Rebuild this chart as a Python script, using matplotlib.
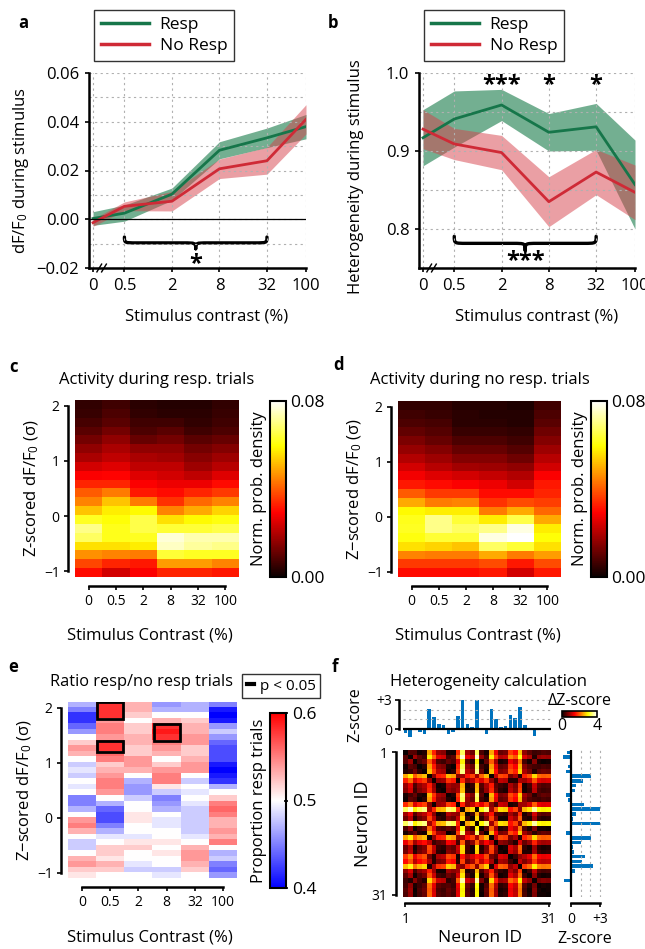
import numpy as np
import matplotlib.pyplot as plt
from matplotlib.path import Path
from matplotlib.patches import PathPatch, Rectangle
from matplotlib.lines import Line2D

plt.rcParams['font.family'] = ['Open Sans', 'DejaVu Sans']
plt.rcParams['mathtext.fontset'] = 'custom'
plt.rcParams['mathtext.rm'] = 'Open Sans'
plt.rcParams['mathtext.it'] = 'Open Sans:italic'

W, H = 645, 949

# --- data -------------------------------------------------------------
contrast_labels = ['0', '0.5', '2', '8', '32', '100']
contrast_vals = [0.2, 0.5, 2, 8, 32, 100]   # 0 % drawn left of 0.5 (axis break)

# a: dF/F0 during stimulus
resp_dff = np.array([0.0003, 0.0025, 0.0103, 0.0283, 0.0334, 0.0380])
resp_dff_err = np.array([0.0028, 0.0033, 0.0025, 0.0035, 0.0040, 0.0050])
noresp_dff = np.array([-0.0014, 0.0053, 0.0074, 0.0207, 0.0240, 0.0410])
noresp_dff_err = np.array([0.0015, 0.0018, 0.0040, 0.0040, 0.0055, 0.0060])

# b: heterogeneity during stimulus
resp_het = np.array([0.917, 0.941, 0.959, 0.924, 0.931, 0.857])
resp_het_err = np.array([0.036, 0.036, 0.020, 0.024, 0.030, 0.057])
noresp_het = np.array([0.928, 0.909, 0.898, 0.835, 0.873, 0.847])
noresp_het_err = np.array([0.025, 0.020, 0.022, 0.032, 0.029, 0.035])

# c, d: density per contrast column, rows from z = 2 (top) to z = -1 (bottom),
# given as a fraction of the 0.08 colour-scale maximum
dens_max = 0.08
resp_density_rel = [
    [0.06, 0.07, 0.09, 0.12, 0.16, 0.20, 0.24, 0.30, 0.36, 0.42, 0.50, 0.56, 0.66, 0.78, 0.88, 0.84, 0.70, 0.58, 0.47, 0.38],
    [0.08, 0.10, 0.12, 0.16, 0.20, 0.24, 0.27, 0.32, 0.37, 0.42, 0.55, 0.66, 0.72, 0.75, 0.77, 0.77, 0.70, 0.56, 0.42, 0.30],
    [0.05, 0.06, 0.08, 0.10, 0.14, 0.20, 0.24, 0.27, 0.32, 0.36, 0.40, 0.55, 0.74, 0.82, 0.82, 0.78, 0.72, 0.55, 0.40, 0.36],
    [0.04, 0.05, 0.08, 0.12, 0.16, 0.20, 0.23, 0.27, 0.30, 0.34, 0.38, 0.44, 0.56, 0.70, 0.80, 0.96, 0.94, 0.80, 0.60, 0.42],
    [0.04, 0.05, 0.06, 0.08, 0.12, 0.16, 0.19, 0.22, 0.27, 0.34, 0.42, 0.52, 0.62, 0.74, 0.80, 0.92, 0.90, 0.78, 0.60, 0.42],
    [0.06, 0.07, 0.08, 0.10, 0.14, 0.18, 0.22, 0.26, 0.32, 0.38, 0.45, 0.56, 0.68, 0.76, 0.82, 0.92, 0.88, 0.78, 0.56, 0.40],
]
noresp_density_rel = [
    [0.06, 0.08, 0.10, 0.13, 0.17, 0.21, 0.25, 0.30, 0.35, 0.40, 0.50, 0.62, 0.74, 0.77, 0.78, 0.76, 0.70, 0.56, 0.45, 0.38],
    [0.06, 0.07, 0.09, 0.11, 0.14, 0.18, 0.22, 0.26, 0.32, 0.38, 0.45, 0.55, 0.72, 0.88, 0.88, 0.80, 0.68, 0.55, 0.45, 0.38],
    [0.04, 0.05, 0.05, 0.07, 0.10, 0.14, 0.18, 0.23, 0.30, 0.36, 0.45, 0.56, 0.72, 0.80, 0.84, 0.80, 0.66, 0.55, 0.45, 0.38],
    [0.04, 0.04, 0.05, 0.07, 0.10, 0.14, 0.18, 0.22, 0.28, 0.34, 0.38, 0.44, 0.55, 0.72, 0.88, 0.97, 0.84, 0.62, 0.48, 0.40],
    [0.03, 0.04, 0.04, 0.06, 0.08, 0.11, 0.15, 0.20, 0.25, 0.30, 0.38, 0.48, 0.62, 0.82, 0.97, 1.00, 0.80, 0.55, 0.40, 0.30],
    [0.08, 0.10, 0.12, 0.15, 0.18, 0.22, 0.26, 0.30, 0.36, 0.40, 0.42, 0.46, 0.52, 0.62, 0.72, 0.75, 0.70, 0.60, 0.48, 0.40],
]

# e: proportion of resp trials, rows from z = 2 (top) to z = -1 (bottom)
ratio_resp = [
    [0.47, 0.45, 0.42, 0.42, 0.44, 0.46, 0.50, 0.52, 0.54, 0.53, 0.50, 0.48, 0.49, 0.48, 0.50, 0.49,
     0.50, 0.45, 0.45, 0.47, 0.50, 0.54, 0.55, 0.53, 0.50, 0.48, 0.48, 0.50, 0.53, 0.54, 0.52, 0.51],
    [0.58, 0.58, 0.58, 0.54, 0.55, 0.55, 0.54, 0.58, 0.58, 0.56, 0.55, 0.52, 0.53, 0.54, 0.55, 0.55,
     0.54, 0.50, 0.47, 0.44, 0.43, 0.43, 0.45, 0.47, 0.49, 0.50, 0.52, 0.52, 0.51, 0.53, 0.52, 0.50],
    [0.53, 0.53, 0.52, 0.50, 0.52, 0.52, 0.53, 0.53, 0.52, 0.52, 0.54, 0.54, 0.53, 0.50, 0.47, 0.46,
     0.46, 0.48, 0.50, 0.50, 0.51, 0.51, 0.50, 0.50, 0.49, 0.51, 0.52, 0.50, 0.50, 0.49, 0.48, 0.50],
    [0.46, 0.47, 0.50, 0.53, 0.58, 0.59, 0.58, 0.55, 0.54, 0.53, 0.50, 0.52, 0.54, 0.55, 0.55, 0.51,
     0.48, 0.45, 0.46, 0.47, 0.50, 0.49, 0.49, 0.50, 0.50, 0.51, 0.50, 0.51, 0.50, 0.50, 0.48, 0.49],
    [0.47, 0.47, 0.50, 0.52, 0.53, 0.53, 0.54, 0.54, 0.52, 0.52, 0.53, 0.54, 0.54, 0.50, 0.48, 0.50,
     0.49, 0.50, 0.49, 0.48, 0.48, 0.48, 0.48, 0.48, 0.49, 0.50, 0.53, 0.54, 0.54, 0.53, 0.52, 0.50],
    [0.45, 0.41, 0.40, 0.41, 0.46, 0.48, 0.46, 0.44, 0.43, 0.43, 0.43, 0.41, 0.40, 0.41, 0.42, 0.47,
     0.50, 0.52, 0.55, 0.56, 0.55, 0.53, 0.53, 0.54, 0.53, 0.55, 0.50, 0.47, 0.48, 0.45, 0.44, 0.46],
]
# significant cells (p < 0.05): (contrast column, first row, last row)
sig_cells = [(1, 0, 2), (1, 7, 8), (3, 4, 6)]

# f: z-scores of the 31 neurons
neuron_z = np.array([-0.35, -0.8, 0.1, -0.3, -0.5, 2.1, 1.3, 0.5, 0.4, -0.45, -0.3, 1.35, 3.0, 0.55, 0.25, 3.0,
                     0.05, -0.45, 2.1, 1.0, 0.2, 0.3, 1.45, 1.15, 2.25, 0.45, 0.15, -0.65, 0.0, 0.1, 0.05])

GREEN = '#16764a'
RED = '#cf2a36'

# --- helpers ------------------------------------------------------------
fig = plt.figure(figsize=(6.45, 9.49), dpi=100)


def px_axes(x, y, w, h):
    return fig.add_axes([x / W, 1 - (y + h) / H, w / W, h / H])


def ftext(x, y, s, **kw):
    kw.setdefault('ha', 'center')
    kw.setdefault('va', 'center')
    fig.text(x / W, 1 - y / H, s, **kw)


def brace(ax, x0, x1, y, h, r):
    xm = (x0 + x1) / 2
    yb = y - h / 2
    verts = [(x0, y), (x0, yb), (x0, yb), (x0 + r, yb),
             (xm - r, yb),
             (xm, yb), (xm, yb), (xm, y - h),
             (xm, yb), (xm, yb), (xm + r, yb),
             (x1 - r, yb),
             (x1, yb), (x1, yb), (x1, y)]
    codes = [Path.MOVETO, Path.CURVE4, Path.CURVE4, Path.CURVE4,
             Path.LINETO,
             Path.CURVE4, Path.CURVE4, Path.CURVE4,
             Path.CURVE4, Path.CURVE4, Path.CURVE4,
             Path.LINETO,
             Path.CURVE4, Path.CURVE4, Path.CURVE4]
    ax.add_patch(PathPatch(Path(verts, codes), fc='none', ec='k', lw=2.4, clip_on=False,
                           capstyle='round', joinstyle='round'))


xpos = np.log10(contrast_vals)


def line_panel(ax, r, r_err, n, n_err, ylim, yticks, yticklabels, minor):
    ax.fill_between(xpos, r - r_err, r + r_err, color='#1e7f4e', alpha=0.62, lw=0)
    ax.fill_between(xpos, n - n_err, n + n_err, color='#d6404a', alpha=0.5, lw=0)
    ax.plot(xpos, r, color=GREEN, lw=2)
    ax.plot(xpos, n, color=RED, lw=2)
    ax.set_xlim(-0.75, 2.0)
    ax.set_ylim(*ylim)
    ax.set_xticks(xpos)
    ax.set_xticklabels(contrast_labels)
    ax.set_yticks(yticks)
    ax.set_yticklabels(yticklabels)
    ax.set_yticks(minor, minor=True)
    ax.grid(True, which='both', ls=(0, (2, 3)), color='#b0b0b0', lw=0.8)
    ax.tick_params(which='minor', length=0)
    ax.tick_params(which='major', labelsize=12, length=3, width=1.2, pad=4)
    for s in ['top', 'right']:
        ax.spines[s].set_visible(False)
    for s in ['left', 'bottom']:
        ax.spines[s].set_linewidth(1.8)
    # axis break between 0 and 0.5
    for dx in (-0.62, -0.56):
        ax.plot([dx - 0.03, dx + 0.03], [-0.02, 0.02], transform=ax.get_xaxis_transform(),
                color='k', lw=1, clip_on=False)
    leg = ax.legend(handles=[Line2D([], [], color=GREEN, lw=2.5), Line2D([], [], color=RED, lw=2.5)],
                    labels=['Resp', 'No Resp'], loc='center',
                    bbox_to_anchor=((ax.get_position().x0 + 75 / W), 1 - 35.5 / H),
                    bbox_transform=fig.transFigure, fancybox=False, edgecolor='k',
                    fontsize=12.5, handlelength=2.8, borderpad=0.4, labelspacing=0.3,
                    handletextpad=0.6, borderaxespad=0)
    leg.get_frame().set_linewidth(1.0)


# --- a ------------------------------------------------------------------
ax_a = px_axes(89, 73, 217, 195)
line_panel(ax_a, resp_dff, resp_dff_err, noresp_dff, noresp_dff_err, (-0.02, 0.06),
           [-0.02, 0, 0.02, 0.04, 0.06], ['\u22120.02', '0.00', '0.02', '0.04', '0.06'],
           [-0.01, 0.01, 0.03, 0.05])
ax_a.axhline(0, color='k', lw=0.9)
brace(ax_a, xpos[1], xpos[4], -0.0073, 0.0048, 0.16)
ax_a.text((xpos[1] + xpos[4]) / 2, -0.0185, '*', ha='center', va='center', fontsize=17, fontweight='bold')
ax_a.set_ylabel('dF/F$_\\mathregular{0}$ during stimulus', fontsize=12)
ax_a.yaxis.set_label_coords(-0.267, 0.5)
ftext(207, 317, 'Stimulus contrast (%)', fontsize=12)
ftext(23, 23, 'a', fontsize=12, fontweight='bold')

# --- b ------------------------------------------------------------------
ax_b = px_axes(419, 73, 216, 195)
line_panel(ax_b, resp_het, resp_het_err, noresp_het, noresp_het_err, (0.75, 1.0),
           [0.8, 0.9, 1.0], ['0.8', '0.9', '1.0'], [0.75, 0.85, 0.95])
brace(ax_b, xpos[1], xpos[4], 0.7906, 0.018, 0.16)
ax_b.text((xpos[1] + xpos[4]) / 2, 0.759, '***', ha='center', va='center', fontsize=17, fontweight='bold')
for i, s in [(2, '***'), (3, '*'), (4, '*')]:
    ax_b.text(xpos[i], 0.985, s, ha='center', va='center', fontsize=17, fontweight='bold')
ax_b.set_ylabel('Heterogeneity during stimulus', fontsize=12)
ax_b.yaxis.set_label_coords(-0.255, 0.47)
ftext(537, 317, 'Stimulus contrast (%)', fontsize=12)
ftext(333, 23, 'b', fontsize=12, fontweight='bold')


# --- heatmap helpers ------------------------------------------------------
def heat_axes(ax, im_data, cmap, vmin, vmax, ylabel):
    im = ax.imshow(im_data, cmap=cmap, vmin=vmin, vmax=vmax, aspect='auto',
                   extent=[-0.5, 5.5, -1.1, 2.1], interpolation='nearest')
    ax.set_xlim(-0.5, 5.5)
    ax.set_ylim(-1.1, 2.1)
    ax.set_xticks(range(6))
    ax.set_xticklabels(contrast_labels, fontsize=11.5)
    ax.set_yticks([-1, 0, 1, 2])
    ax.set_yticklabels(['\u22121', '0', '1', '2'], fontsize=13)
    for s in ['top', 'right']:
        ax.spines[s].set_visible(False)
    ax.spines['left'].set_bounds(-1, 2)
    ax.spines['bottom'].set_bounds(0, 5)
    ax.spines['left'].set_position(('outward', 5))
    ax.spines['bottom'].set_position(('outward', 6.5))
    for s in ['left', 'bottom']:
        ax.spines[s].set_linewidth(1.8)
    ax.tick_params(length=3, width=1.2, pad=3)
    ax.set_ylabel(ylabel, fontsize=12, labelpad=2)
    return im


def cbar(im, x, y, w, h, ticks, labels, label):
    cax = px_axes(x, y, w, h)
    cb = fig.colorbar(im, cax=cax, ticks=ticks)
    cb.set_ticklabels(labels)
    cb.outline.set_linewidth(1.5)
    cax.tick_params(labelsize=12.5, length=0, pad=3)
    cax.yaxis.set_label_position('left')
    cb.set_label(label, fontsize=12, labelpad=2)
    return cb


# --- c ------------------------------------------------------------------
ax_c = px_axes(75, 400, 164, 177)
im_c = heat_axes(ax_c, np.array(resp_density_rel).T * dens_max, 'hot', 0, dens_max,
                 'Z-scored dF/F$_\\mathregular{0}$ (\u03c3)')
cbar(im_c, 270, 401, 16, 176, [0, dens_max], ['0.00', '0.08'], 'Norm. prob. density')
ftext(157, 380, 'Activity during resp. trials', fontsize=12)
ftext(150, 635, 'Stimulus Contrast (%)', fontsize=12)
ftext(13, 367, 'c', fontsize=12, fontweight='bold')

# --- d ------------------------------------------------------------------
ax_d = px_axes(398, 401, 163, 176)
im_d = heat_axes(ax_d, np.array(noresp_density_rel).T * dens_max, 'hot', 0, dens_max,
                 'Z\u2212scored dF/F$_\\mathregular{0}$ (\u03c3)')
cbar(im_d, 591, 401, 16, 176, [0, dens_max], ['0.00', '0.08'], 'Norm. prob. density')
ftext(480, 380, 'Activity during no resp. trials', fontsize=12)
ftext(478, 635, 'Stimulus Contrast (%)', fontsize=12)
ftext(338, 365, 'd', fontsize=12, fontweight='bold')

# --- e ------------------------------------------------------------------
ax_e = px_axes(68, 702, 169, 176)
im_e = heat_axes(ax_e, np.array(ratio_resp).T, 'bwr', 0.4, 0.6,
                 'Z\u2212scored dF/F$_\\mathregular{0}$ (\u03c3)')
edges = np.linspace(2.1, -1.1, 33)
for col, r0, r1 in sig_cells:
    ax_e.add_patch(Rectangle((col - 0.5 + 0.04, edges[r1 + 1]), 0.92, edges[r0] - edges[r1 + 1],
                             fc='none', ec='k', lw=2))
cb_e = cbar(im_e, 270, 713, 16, 175, [0.4, 0.5, 0.6], ['0.4', '0.5', '0.6'], 'Proportion resp trials')
cb_e.ax.tick_params(length=3, width=1.2, direction='inout')
ftext(142, 682, 'Ratio resp/no resp trials', fontsize=11.8)
ftext(150, 938, 'Stimulus Contrast (%)', fontsize=12)
ftext(13, 667, 'e', fontsize=12, fontweight='bold')
leg_e = fig.legend(handles=[Line2D([], [], color='k', lw=3)], labels=['p < 0.05'], loc='center',
                   bbox_to_anchor=(281 / W, 1 - 686 / H), fancybox=False, edgecolor='k',
                   fontsize=11, handlelength=0.5, handletextpad=0.35, borderpad=0.3,
                   borderaxespad=0)
leg_e.get_frame().set_linewidth(1.0)

# --- f ------------------------------------------------------------------
n = len(neuron_z)
dz = np.abs(neuron_z[:, None] - neuron_z[None, :])

ax_top = px_axes(403, 699, 148, 40)
ax_top.bar(np.arange(n), neuron_z, width=0.75, color='#0072BD')
ax_top.axhline(0, color='k', lw=1.6)
ax_top.set_xlim(-0.5, n - 0.5)
ax_top.set_ylim(-1.0, 3.1)
ax_top.set_yticks([0, 3])
ax_top.set_yticklabels(['0', '+3'], fontsize=11.5)
ax_top.set_yticks([1, 2], minor=True)
ax_top.grid(True, axis='y', which='both', ls=(0, (2, 3)), color='#b0b0b0', lw=0.8)
ax_top.set_xticks([])
for s in ['top', 'right', 'bottom']:
    ax_top.spines[s].set_visible(False)
ax_top.spines['left'].set_bounds(0, 3)
ax_top.spines['left'].set_position(('outward', 3))
ax_top.spines['left'].set_linewidth(1.8)
ax_top.tick_params(which='minor', length=0)
ax_top.tick_params(which='major', length=3, width=1.2, pad=2)
ftext(355, 715, 'Z-score', fontsize=11.5, rotation=90)

ax_m = px_axes(403, 750, 148, 147)
im_f = ax_m.imshow(dz, cmap='hot', vmin=0, vmax=4, aspect='auto', interpolation='nearest',
                   extent=[-0.5, n - 0.5, n - 0.5, -0.5])
ax_m.set_xticks([0, n - 1])
ax_m.set_xticklabels(['1', str(n)], fontsize=12.5)
ax_m.set_yticks([0, n - 1])
ax_m.set_yticklabels(['1', str(n)], fontsize=12.5)
for s in ['top', 'right']:
    ax_m.spines[s].set_visible(False)
ax_m.spines['left'].set_bounds(0, n - 1)
ax_m.spines['bottom'].set_bounds(0, n - 1)
ax_m.spines['left'].set_position(('outward', 5))
ax_m.spines['bottom'].set_position(('outward', 4.5))
for s in ['left', 'bottom']:
    ax_m.spines[s].set_linewidth(1.8)
ax_m.tick_params(length=3, width=1.2, pad=3)
ax_m.set_ylabel('Neuron ID', fontsize=13, labelpad=0)
ftext(480, 938, 'Neuron ID', fontsize=12.5)

ax_r = px_axes(561, 750, 41, 147)
ax_r.barh(np.arange(n), neuron_z, height=0.75, color='#0072BD')
ax_r.axvline(0, color='k', lw=1.6)
ax_r.set_ylim(n - 0.5, -0.5)
ax_r.set_xlim(-1.0, 3.2)
ax_r.set_xticks([0, 3])
ax_r.set_xticklabels(['0', '+3'], fontsize=11.5)
ax_r.set_xticks([1, 2], minor=True)
ax_r.grid(True, axis='x', which='both', ls=(0, (2, 3)), color='#b0b0b0', lw=0.8)
ax_r.set_yticks([])
for s in ['top', 'right', 'left']:
    ax_r.spines[s].set_visible(False)
ax_r.spines['bottom'].set_bounds(0, 3)
ax_r.spines['bottom'].set_position(('outward', 4.5))
ax_r.spines['bottom'].set_linewidth(1.8)
ax_r.tick_params(which='minor', length=0)
ax_r.tick_params(which='major', length=3, width=1.2, pad=3)
ftext(585, 939, 'Z-score', fontsize=11.5)

cax_f = px_axes(562, 711, 35, 6)
cb_f = fig.colorbar(im_f, cax=cax_f, orientation='horizontal', ticks=[0, 4])
cb_f.outline.set_linewidth(1.2)
cax_f.tick_params(labelsize=11.5, length=0, pad=1)
ftext(580, 701, '\u0394Z-score', fontsize=11.5)

ftext(488, 682, 'Heterogeneity calculation', fontsize=12)
ftext(335, 667, 'f', fontsize=12, fontweight='bold')

fig.savefig('out.png', dpi=100)
